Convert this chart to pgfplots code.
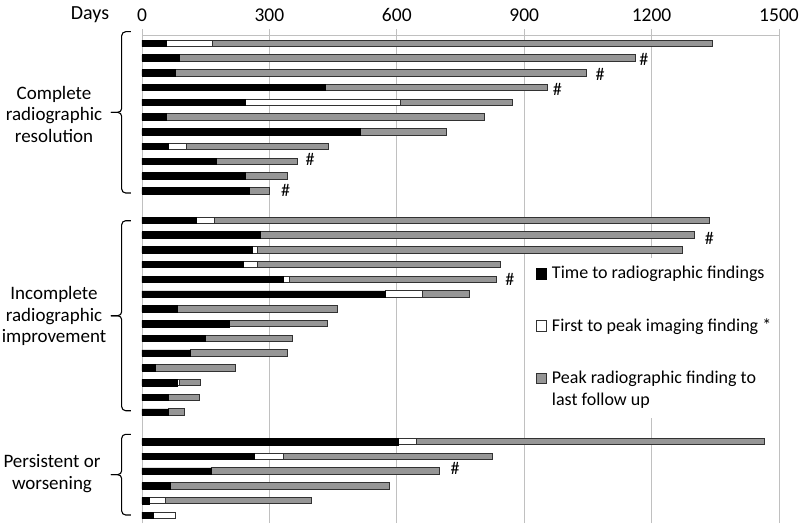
\documentclass[border=0pt]{standalone}
\usepackage{fontspec}
\setmainfont{Carlito}
\usepackage{pgfplots}
\pgfplotsset{compat=1.18}
\definecolor{BarGray}{RGB}{150,150,150}
\definecolor{Edge}{RGB}{50,50,50}
\definecolor{Grid}{RGB}{192,192,192}

\begin{document}
\begin{tikzpicture}[x=1pt,y=1pt, hashmark/.style={font=\fontsize{18}{20}\selectfont, inner sep=0pt}]
\useasboundingbox (-142,0) rectangle (658,523);
\begin{axis}[
  at={(0,0)}, anchor=south west,
  scale only axis, width=637pt, height=488pt,
  xbar stacked, bar width=6.5pt,
  xmin=0, xmax=1500, ymin=-32.52, ymax=0.56,
  axis x line*=top, axis y line*=left,
  axis line style={draw=Grid, line width=0.8pt},
  xtick={0,300,...,1500}, ytick=\empty,
  xmajorgrids, grid style={Grid, line width=0.8pt},
  tick align=outside, major tick length=6pt,
  xtick style={Grid, line width=0.8pt},
  xticklabel style={font=\fontsize{19.5}{20}\selectfont, yshift=4pt},
  /pgf/number format/assume math mode=true,
  /pgf/number format/1000 sep={},
  clip=false,
  legend style={
    at={(axis cs:916,-14.56)}, anchor=north west,
    draw=none, fill=white, inner xsep=5pt, inner ysep=8pt,
    font=\fontsize{18}{21}\selectfont,
    row sep=0pt, column sep=5pt,
    nodes={inner sep=0pt, text depth=},
    cells={anchor=base west},
  },
  legend image code/.code={\draw[#1] (0pt,-0.3pt) rectangle (10pt,10.4pt);},
]
% time to radiographic findings
\addplot[fill=black, draw=black, line width=0.6pt] coordinates {
  (57,0) (87,-1) (78,-2) (432,-3) (244,-4) (57,-5) (513,-6) (62,-7) (175,-8) (244,-9) (252,-10)
  (127,-12) (279,-13) (260,-14) (239,-15) (333,-16) (574,-17) (84,-18) (205,-19) (148,-20)
  (114,-21) (32,-22) (82,-23) (62,-24) (62,-25)
  (604,-27) (265,-28) (163,-29) (66,-30) (17,-31) (26,-32)};
\addlegendentry{Time to radiographic findings\rule[-39.7pt]{0pt}{13pt}}
% first to peak imaging finding
\addplot[fill=white, draw=Edge, line width=0.8pt] coordinates {
  (109,0) (0,-1) (0,-2) (0,-3) (365,-4) (0,-5) (0,-6) (42,-7) (0,-8) (0,-9) (0,-10)
  (43,-12) (0,-13) (12,-14) (33,-15) (14,-16) (86,-17) (0,-18) (0,-19) (0,-20)
  (0,-21) (0,-22) (6,-23) (0,-24) (0,-25)
  (41,-27) (68,-28) (0,-29) (0,-30) (38,-31) (53,-32)};
\addlegendentry{First to peak imaging finding *\rule[-39.6pt]{0pt}{13pt}}
% peak finding to last follow up
\addplot[fill=BarGray, draw=Edge, line width=0.8pt] coordinates {
  (1178,0) (1075,-1) (968,-2) (522,-3) (263,-4) (749,-5) (204,-6) (336,-7) (190,-8) (99,-9) (48,-10)
  (1167,-12) (1021,-13) (1000,-14) (573,-15) (488,-16) (110,-17) (376,-18) (231,-19) (205,-20)
  (228,-21) (189,-22) (50,-23) (72,-24) (38,-25)
  (821,-27) (492,-28) (538,-29) (517,-30) (345,-31) (0,-32)};
\addlegendentry{\vtop{\baselineskip=22.4pt\hbox{Peak radiographic finding to}\hbox{last follow up\rule[-4pt]{0pt}{13pt}}}}

\node[hashmark] at (axis cs:1182,-1.08) {\#};
\node[hashmark] at (axis cs:1079,-2.1) {\#};
\node[hashmark] at (axis cs:978,-3.12) {\#};
\node[hashmark] at (axis cs:396,-7.86) {\#};
\node[hashmark] at (axis cs:338,-9.95) {\#};
\node[hashmark] at (axis cs:1336,-13.22) {\#};
\node[hashmark] at (axis cs:866,-15.98) {\#};
\node[hashmark] at (axis cs:737,-28.81) {\#};
\end{axis}

% braces
\begin{scope}[line width=1.1pt, rounded corners=4pt]
\draw (-11,491.3) -- (-20.3,491.3) -- (-20.3,410.65) -- (-31,410.65);
\draw (-31,410.65) -- (-20.3,410.65) -- (-20.3,330) -- (-11,330);
\draw (-11,302.3) -- (-20.3,302.3) -- (-20.3,207.3) -- (-31,207.3);
\draw (-31,207.3) -- (-20.3,207.3) -- (-20.3,112.3) -- (-11,112.3);
\draw (-11,88.7) -- (-20.3,88.7) -- (-20.3,48.35) -- (-31,48.35);
\draw (-31,48.35) -- (-20.3,48.35) -- (-20.3,8) -- (-11,8);
\end{scope}

\begin{scope}[every node/.style={font=\fontsize{19}{21.5}\selectfont, align=center}]
\node at (-88,409) {Complete\\radiographic\\resolution};
\node at (-88,207) {Incomplete\\radiographic\\improvement};
\node at (-90,49.5) {Persistent or\\worsening};
\end{scope}
\node[font=\fontsize{20}{22}\selectfont, anchor=base] at (-52,503) {Days};
\end{tikzpicture}
\end{document}
